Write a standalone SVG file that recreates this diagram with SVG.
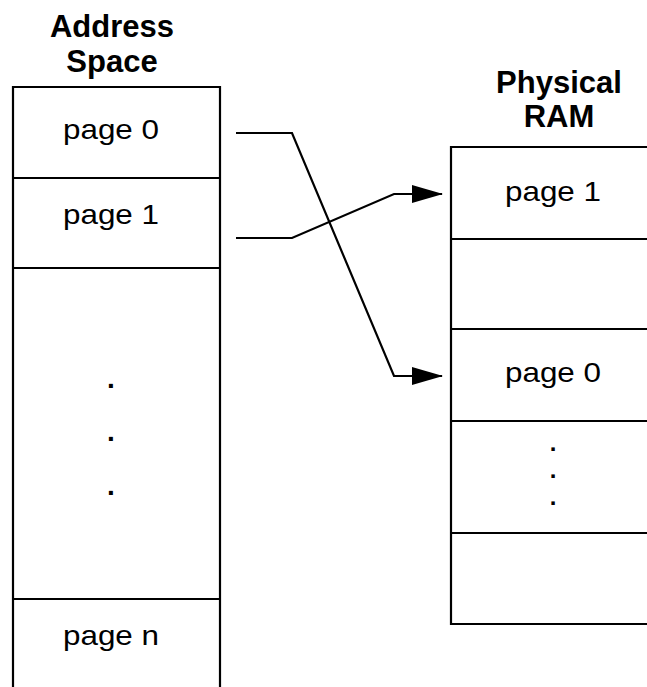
<svg xmlns="http://www.w3.org/2000/svg" width="647" height="687" viewBox="0 0 647 687">
<style>
.ln{fill:none;stroke:#000;stroke-width:2.2}
.t{font-family:"Liberation Sans",Arial,sans-serif;font-size:28px;fill:#000;text-anchor:middle}
.h{font-family:"Liberation Sans",Arial,sans-serif;font-size:31px;font-weight:bold;fill:#000;text-anchor:middle}
.d{font-family:"Liberation Sans",Arial,sans-serif;font-size:28px;font-weight:bold;fill:#000;text-anchor:middle}
.ds{font-family:"Liberation Sans",Arial,sans-serif;font-size:24px;font-weight:bold;fill:#000;text-anchor:middle}
</style>
<defs>
<marker id="arr" markerWidth="31" markerHeight="20" refX="30" refY="9" orient="auto" markerUnits="userSpaceOnUse">
<path d="M0,0 L31,9 L0,18 Z" fill="#000"/>
</marker>
</defs>
<rect width="647" height="687" fill="#fff"/>
<g id="address-space">
<text class="h" x="112" y="37">Address</text>
<text class="h" x="112" y="72">Space</text>
<path class="ln" d="M13,690 V87 H220 V690"/>
<path class="ln" d="M13,178 H220 M13,268 H220 M13,599 H220"/>
<text class="t" x="111" y="139" textLength="96" lengthAdjust="spacingAndGlyphs">page 0</text>
<text class="t" x="111" y="224" textLength="96" lengthAdjust="spacingAndGlyphs">page 1</text>
<text class="d" x="111" y="388">.</text>
<text class="d" x="111" y="441">.</text>
<text class="d" x="111" y="495">.</text>
<text class="t" x="111" y="645" textLength="96" lengthAdjust="spacingAndGlyphs">page n</text>
</g>
<g id="physical-ram">
<text class="h" x="559" y="93">Physical</text>
<text class="h" x="559" y="127">RAM</text>
<path class="ln" d="M650,147 H451 V624 H650"/>
<path class="ln" d="M451,239 H650 M451,329 H650 M451,421 H650 M451,533 H650"/>
<text class="t" x="553" y="201" textLength="96" lengthAdjust="spacingAndGlyphs">page 1</text>
<text class="t" x="553" y="382" textLength="96" lengthAdjust="spacingAndGlyphs">page 0</text>
<text class="ds" x="553" y="451">.</text>
<text class="ds" x="553" y="478">.</text>
<text class="ds" x="553" y="505">.</text>
</g>
<g id="connectors">
<path class="ln" d="M236,133 H292 L394,376 H442" marker-end="url(#arr)"/>
<path class="ln" d="M236,238 H292 L394,194 H442" marker-end="url(#arr)"/>
</g>
</svg>
